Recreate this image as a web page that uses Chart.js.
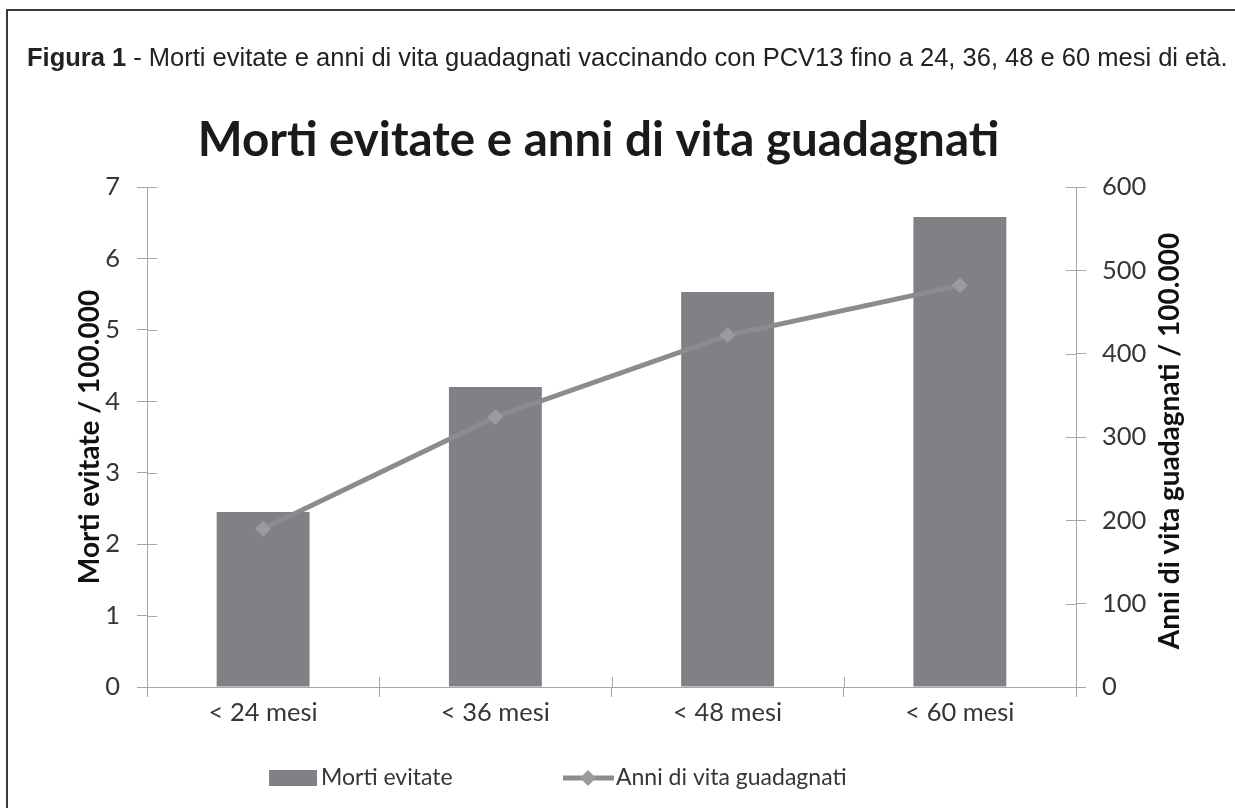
<!DOCTYPE html>
<html lang="it">
<head>
<meta charset="utf-8">
<title>Figura 1 - Morti evitate e anni di vita guadagnati</title>
<script src="https://cdn.jsdelivr.net/npm/chart.js@4.4.1/dist/chart.umd.min.js"></script>
<style>
  html, body { margin: 0; padding: 0; background: #fff; }
  body { width: 1235px; height: 808px; position: relative; overflow: hidden; }
  .frame-top { position: absolute; left: 7px; top: 9px; width: 1228px; height: 2px; background: #3a3a3a; }
  .frame-left { position: absolute; left: 6px; top: 9px; width: 2px; height: 799px; background: #3a3a3a; }
  .caption {
    position: absolute; left: 27px; top: 45px;
    font-family: "Liberation Sans", Arial, sans-serif; font-size: 25.5px; line-height: 24px;
    color: #222; white-space: nowrap; z-index: 2;
  }
  #chartWrap { position: absolute; left: 0; top: 0; width: 1235px; height: 808px; }
</style>
</head>
<body>
<div class="frame-top"></div>
<div class="frame-left"></div>
<div class="caption"><b>Figura 1</b> - Morti evitate e anni di vita guadagnati vaccinando con PCV13 fino a 24, 36, 48 e 60 mesi di età.</div>
<div id="chartWrap"><canvas id="chart" width="1235" height="808"></canvas></div>

<script>
// --- data ---
const categories = ['< 24 mesi', '< 36 mesi', '< 48 mesi', '< 60 mesi'];
const mortiEvitate = [2.45, 4.20, 5.53, 6.58];       // left axis, per 100.000
const anniGuadagnati = [190, 324, 422, 482];         // right axis, per 100.000
const leftTicks = [0, 1, 2, 3, 4, 5, 6, 7];
const rightTicks = [0, 100, 200, 300, 400, 500, 600];

const chartTitle = 'Morti evitate e anni di vita guadagnati';
const leftAxisTitle = 'Morti evitate / 100.000';
const rightAxisTitle = 'Anni di vita guadagnati / 100.000';

const BAR = '#808184';
const LINE = '#8c8c8e';
const MARKER = '#9b9b9d';
const AXIS = '#a6a6a6';
const TEXT = '#363636';

Chart.defaults.font.family = 'Lato, "Open Sans", sans-serif';
Chart.defaults.color = TEXT;

// ticks in Excel style cross the axis line: Chart.js draws the outer half, this draws the inner half
const innerTicks = {
  id: 'innerTicks',
  beforeDatasetsDraw(chart) {
    const ctx = chart.ctx;
    const {x, y, y1} = chart.scales;
    ctx.save();
    ctx.strokeStyle = AXIS;
    ctx.lineWidth = 1;
    ctx.beginPath();
    y.ticks.forEach((t, i) => {
      const py = Math.round(y.getPixelForTick(i)) + 0.5;
      ctx.moveTo(y.right, py); ctx.lineTo(y.right + 10, py);
    });
    y1.ticks.forEach((t, i) => {
      const py = Math.round(y1.getPixelForTick(i)) + 0.5;
      ctx.moveTo(y1.left - 10, py); ctx.lineTo(y1.left, py);
    });
    for (let i = 0; i <= categories.length; i++) {
      const px = Math.round(x.getPixelForValue(i - 0.5)) + 0.5;
      ctx.moveTo(px, x.top - 10); ctx.lineTo(px, x.top);
    }
    ctx.stroke();
    ctx.restore();
  }
};

// title sits a little left of the canvas centre in the original
const shiftTitle = {
  id: 'shiftTitle',
  afterLayout(chart) {
    if (chart.titleBlock) { chart.titleBlock.left -= 19; chart.titleBlock.right -= 19; }
  }
};

// right axis title reads bottom-to-top like the left one, so it is drawn here
const rightTitle = {
  id: 'rightTitle',
  afterDraw(chart) {
    const ctx = chart.ctx;
    const a = chart.chartArea;
    const y1 = chart.scales.y1;
    ctx.save();
    ctx.translate(y1.left + 94, (a.top + a.bottom) / 2 + 4);
    ctx.rotate(-Math.PI / 2);
    ctx.font = 'bold 28px Lato, sans-serif';
    ctx.fillStyle = '#111';
    ctx.textAlign = 'center';
    ctx.textBaseline = 'middle';
    ctx.fillText(rightAxisTitle, 0, 0);
    ctx.restore();
  }
};

// legend row under the axis: bar swatch, line with diamond
const legendRow = {
  id: 'legendRow',
  afterDraw(chart) {
    const ctx = chart.ctx;
    const ds = chart.data.datasets;
    const cy = 778;
    ctx.save();
    ctx.font = '23px Lato, sans-serif';
    ctx.textBaseline = 'middle';

    ctx.fillStyle = ds[0].backgroundColor;
    ctx.fillRect(269, cy - 8, 48, 16);
    ctx.fillStyle = TEXT;
    ctx.fillText(ds[0].label, 321, cy);

    ctx.strokeStyle = ds[1].borderColor;
    ctx.lineWidth = 5;
    ctx.beginPath(); ctx.moveTo(563, cy); ctx.lineTo(614, cy); ctx.stroke();
    ctx.fillStyle = ds[1].pointBackgroundColor;
    ctx.beginPath();
    ctx.moveTo(588, cy - 8); ctx.lineTo(596, cy); ctx.lineTo(588, cy + 8); ctx.lineTo(580, cy);
    ctx.closePath(); ctx.fill();
    ctx.fillStyle = TEXT;
    ctx.fillText(ds[1].label, 616, cy);
    ctx.restore();
  }
};

new Chart(document.getElementById('chart'), {
  data: {
    labels: categories,
    datasets: [
      {
        type: 'bar',
        label: 'Morti evitate',
        data: mortiEvitate,
        backgroundColor: BAR,
        borderWidth: 0,
        barPercentage: 0.4,
        categoryPercentage: 1,
        yAxisID: 'y',
        order: 2
      },
      {
        type: 'line',
        label: 'Anni di vita guadagnati',
        data: anniGuadagnati,
        borderColor: LINE,
        borderWidth: 5,
        pointStyle: 'rectRot',
        pointRadius: 8,
        pointBackgroundColor: MARKER,
        pointBorderWidth: 0,
        tension: 0,
        yAxisID: 'y1',
        order: 1
      }
    ]
  },
  options: {
    responsive: false,
    animation: false,
    layout: { padding: { top: 0, left: 0, right: 0, bottom: 71 } },
    plugins: {
      legend: { display: false },
      tooltip: { enabled: false },
      title: {
        display: true,
        text: chartTitle,
        color: '#1a1a1a',
        font: { size: 47.5, weight: 'bold' },
        padding: { top: 112, bottom: 18 }
      }
    },
    scales: {
      x: {
        offset: true,
        grid: { offset: true, drawOnChartArea: false, drawTicks: true, tickLength: 10, color: AXIS },
        border: { display: true, color: AXIS },
        ticks: { font: { size: 25.5 }, color: TEXT, padding: 0 },
        afterFit(s) { s.height = 50; }
      },
      y: {
        position: 'left',
        min: leftTicks[0],
        max: leftTicks[leftTicks.length - 1],
        grid: { drawOnChartArea: false, tickLength: 10, color: AXIS },
        border: { display: true, color: AXIS },
        ticks: { stepSize: 1, font: { size: 25.5 }, color: TEXT, padding: 17 },
        title: {
          display: true,
          text: leftAxisTitle,
          color: '#111',
          font: { size: 28, weight: 'bold' },
          padding: { top: 73, bottom: 0 }
        },
        afterFit(s) { s.width = 147; }
      },
      y1: {
        position: 'right',
        min: rightTicks[0],
        max: rightTicks[rightTicks.length - 1],
        grid: { drawOnChartArea: false, tickLength: 10, color: AXIS },
        border: { display: true, color: AXIS },
        ticks: { stepSize: 100, font: { size: 25.5 }, color: TEXT, padding: 16 },
        afterFit(s) { s.width = 159; }
      }
    }
  },
  plugins: [innerTicks, shiftTitle, rightTitle, legendRow]
});
</script>
</body>
</html>
